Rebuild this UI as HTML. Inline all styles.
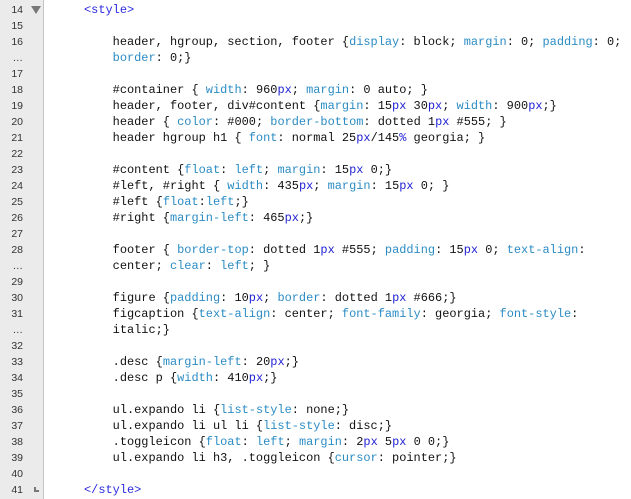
<!DOCTYPE html>
<html><head><style>
body{margin:0;width:631px;height:499px;background:#fff;overflow:hidden;position:relative;font-family:"Liberation Mono","DejaVu Sans Mono",monospace;font-size:11.95px}
#g{position:absolute;left:0;top:0;width:43px;height:499px;background:#ebebeb;border-right:1px solid #c4c4c4}
.n{position:absolute;left:0;width:23px;text-align:right;font-family:"Liberation Sans",sans-serif;font-size:10.5px;color:#333;height:16px;line-height:16px}
.r{position:absolute;left:84px;height:16px;line-height:16px;white-space:pre;color:#111}
.p{color:#2b8cc4}.u{color:#2323d6}.t{color:#2b2be0}
</style></head><body>
<div id="g"></div>
<div class="n" style="top:2px">14</div>
<div style="position:absolute;left:31px;top:6px;width:0;height:0;border-left:5px solid transparent;border-right:5px solid transparent;border-top:8px solid #777"></div>
<div class="n" style="top:18px">15</div>
<div class="n" style="top:34px">16</div>
<div class="n" style="top:50px">…</div>
<div class="n" style="top:66px">17</div>
<div class="n" style="top:82px">18</div>
<div class="n" style="top:98px">19</div>
<div class="n" style="top:114px">20</div>
<div class="n" style="top:130px">21</div>
<div class="n" style="top:146px">22</div>
<div class="n" style="top:162px">23</div>
<div class="n" style="top:178px">24</div>
<div class="n" style="top:194px">25</div>
<div class="n" style="top:210px">26</div>
<div class="n" style="top:226px">27</div>
<div class="n" style="top:242px">28</div>
<div class="n" style="top:258px">…</div>
<div class="n" style="top:274px">29</div>
<div class="n" style="top:290px">30</div>
<div class="n" style="top:306px">31</div>
<div class="n" style="top:322px">…</div>
<div class="n" style="top:338px">32</div>
<div class="n" style="top:354px">33</div>
<div class="n" style="top:370px">34</div>
<div class="n" style="top:386px">35</div>
<div class="n" style="top:402px">36</div>
<div class="n" style="top:418px">37</div>
<div class="n" style="top:434px">38</div>
<div class="n" style="top:450px">39</div>
<div class="n" style="top:466px">40</div>
<div class="n" style="top:482px">41</div>
<div style="position:absolute;left:34px;top:487px;width:2px;height:5px;background:#777"></div>
<div style="position:absolute;left:34px;top:490px;width:5px;height:2px;background:#777"></div>

<div class="r t" style="top:2px">&lt;style&gt;</div>
<div class="r" style="top:34px">    header, hgroup, section, footer {<span class="p">display</span>: block; <span class="p">margin</span>: 0; <span class="p">padding</span>: 0;</div>
<div class="r" style="top:50px">    <span class="p">border</span>: 0;}</div>
<div class="r" style="top:82px">    #container { <span class="p">width</span>: 960<span class="u">px</span>; <span class="p">margin</span>: 0 auto; }</div>
<div class="r" style="top:98px">    header, footer, div#content {<span class="p">margin</span>: 15<span class="u">px</span> 30<span class="u">px</span>; <span class="p">width</span>: 900<span class="u">px</span>;}</div>
<div class="r" style="top:114px">    header { <span class="p">color</span>: #000; <span class="p">border-bottom</span>: dotted 1<span class="u">px</span> #555; }</div>
<div class="r" style="top:130px">    header hgroup h1 { <span class="p">font</span>: normal 25<span class="u">px</span>/145<span class="u">%</span> georgia; }</div>
<div class="r" style="top:162px">    #content {<span class="p">float</span>: <span class="p">left</span>; <span class="p">margin</span>: 15<span class="u">px</span> 0;}</div>
<div class="r" style="top:178px">    #left, #right { <span class="p">width</span>: 435<span class="u">px</span>; <span class="p">margin</span>: 15<span class="u">px</span> 0; }</div>
<div class="r" style="top:194px">    #left {<span class="p">float</span>:<span class="p">left</span>;}</div>
<div class="r" style="top:210px">    #right {<span class="p">margin-left</span>: 465<span class="u">px</span>;}</div>
<div class="r" style="top:242px">    footer { <span class="p">border-top</span>: dotted 1<span class="u">px</span> #555; <span class="p">padding</span>: 15<span class="u">px</span> 0; <span class="p">text-align</span>:</div>
<div class="r" style="top:258px">    center; <span class="p">clear</span>: <span class="p">left</span>; }</div>
<div class="r" style="top:290px">    figure {<span class="p">padding</span>: 10<span class="u">px</span>; <span class="p">border</span>: dotted 1<span class="u">px</span> #666;}</div>
<div class="r" style="top:306px">    figcaption {<span class="p">text-align</span>: center; <span class="p">font-family</span>: georgia; <span class="p">font-style</span>:</div>
<div class="r" style="top:322px">    italic;}</div>
<div class="r" style="top:354px">    .desc {<span class="p">margin-left</span>: 20<span class="u">px</span>;}</div>
<div class="r" style="top:370px">    .desc p {<span class="p">width</span>: 410<span class="u">px</span>;}</div>
<div class="r" style="top:402px">    ul.expando li {<span class="p">list-style</span>: none;}</div>
<div class="r" style="top:418px">    ul.expando li ul li {<span class="p">list-style</span>: disc;}</div>
<div class="r" style="top:434px">    .toggleicon {<span class="p">float</span>: <span class="p">left</span>; <span class="p">margin</span>: 2<span class="u">px</span> 5<span class="u">px</span> 0 0;}</div>
<div class="r" style="top:450px">    ul.expando li h3, .toggleicon {<span class="p">cursor</span>: pointer;}</div>
<div class="r t" style="top:482px">&lt;/style&gt;</div>
</body></html>
